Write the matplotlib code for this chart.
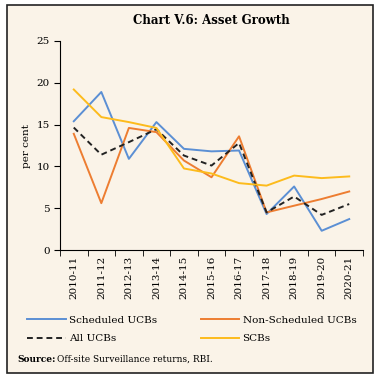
import matplotlib
matplotlib.use('Agg')
import matplotlib.pyplot as plt
from matplotlib.patches import Rectangle
import numpy as np

years = ["2010-11", "2011-12", "2012-13", "2013-14", "2014-15", "2015-16",
         "2016-17", "2017-18", "2018-19", "2019-20", "2020-21"]
scheduled = [15.4, 18.9, 10.9, 15.3, 12.1, 11.8, 11.9, 4.3, 7.6, 2.3, 3.7]
non_scheduled = [13.9, 5.6, 14.6, 14.1, 10.7, 8.7, 13.6, 4.5, 5.3, 6.1, 7.0]
all_ucbs = [14.65, 11.4, 12.9, 14.45, 11.3, 10.1, 12.8, 4.5, 6.4, 4.2, 5.5]
scbs = [19.2, 15.9, 15.3, 14.6, 9.75, 9.15, 8.0, 7.7, 8.9, 8.6, 8.8]

bg = '#faf3e8'
plt.rcParams['font.family'] = ['DejaVu Serif']

fig = plt.figure(figsize=(3.82, 3.80), dpi=100)
fig.patch.set_facecolor('white')
fig.patches.append(Rectangle((7 / 382, 1 - 373 / 380), 366 / 382, 368 / 380,
                             transform=fig.transFigure, facecolor=bg,
                             edgecolor='#222222', linewidth=1.2, zorder=-1))

ax = fig.add_axes([60 / 382, 1 - 250 / 380, 303 / 382, 209 / 380])
ax.set_facecolor(bg)
x = np.arange(len(years))
ax.plot(x, scheduled, color='#5b8fd4', lw=1.4, label='Scheduled UCBs')
ax.plot(x, non_scheduled, color='#ed7d31', lw=1.4, label='Non-Scheduled UCBs')
ax.plot(x, all_ucbs, color='#222222', lw=1.4, ls=(0, (3, 2)), label='All UCBs')
ax.plot(x, scbs, color='#fdbb1c', lw=1.4, label='SCBs')

ax.set_xlim(-0.5, len(years) - 0.5)
ax.set_ylim(0, 25)
ax.set_yticks([0, 5, 10, 15, 20, 25])
ax.set_xticks(x)
ax.set_xticklabels(years, rotation=90, fontsize=7.5)
ax.set_xticks(np.arange(-0.5, len(years), 1), minor=True)
ax.tick_params(axis='x', which='major', length=0, pad=4)
ax.tick_params(axis='x', which='minor', length=4, direction='out')
ax.tick_params(axis='y', labelsize=7.5, length=4)
ax.set_ylabel('per cent', fontsize=7.5)
for s in ['top', 'right']:
    ax.spines[s].set_visible(False)

ax.set_title('Chart V.6: Asset Growth', fontsize=8.5, fontweight='bold', pad=12)

handles, labels = ax.get_legend_handles_labels()
order = [0, 2, 1, 3]
fig.legend([handles[i] for i in order], [labels[i] for i in order],
           loc='upper left', bbox_to_anchor=(18 / 382, 1 - 306 / 380),
           ncol=2, frameon=False, fontsize=7.5, handlelength=3.7,
           columnspacing=4.2, handletextpad=0.3, labelspacing=0.9)

fig.text(17 / 382, 1 - 359 / 380, 'Source:', fontsize=6.5, fontweight='bold', va='center')
fig.text(57 / 382, 1 - 359 / 380, 'Off-site Surveillance returns, RBI.', fontsize=6.5, va='center')

fig.savefig('out.png', dpi=100, facecolor=fig.get_facecolor())
